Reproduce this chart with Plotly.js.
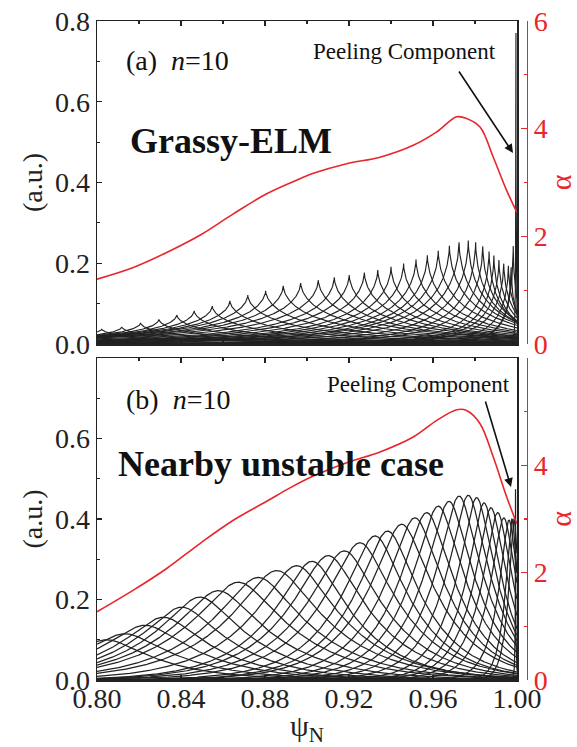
<!DOCTYPE html>
<html><head><meta charset="utf-8">
<script src="https://cdn.plot.ly/plotly-3.0.1.min.js"></script>
<style>html,body{margin:0;padding:0;background:#fff;}</style>
</head><body>
<div id="chart" style="width:577px;height:747px"></div>
<script>
// ---------------- data ----------------
const xTickVals = [0.80, 0.84, 0.88, 0.92, 0.96, 1.00];
const xTickText = ['0.80', '0.84', '0.88', '0.92', '0.96', '1.00'];
const yTickValsA = [0, 0.2, 0.4, 0.6, 0.8];
const yTickTextA = ['0.0', '0.2', '0.4', '0.6', '0.8'];
const yTickValsB = [0, 0.2, 0.4, 0.6];
const yTickTextB = ['0.0', '0.2', '0.4', '0.6'];
const alphaTickValsA = [0, 2, 4, 6];
const alphaTickValsB = [0, 2, 4];

// panel (a): alpha profile (right axis)
const alphaPsiA = [0.800, 0.8173, 0.8332, 0.8490, 0.8649, 0.8808, 0.8967, 0.9030, 0.9189, 0.9348, 0.9506, 0.9618, 0.9713, 0.9760, 0.9824, 0.9887, 0.9951, 0.9999];
const alphaA    = [1.205, 1.422, 1.70, 2.02, 2.417, 2.79, 3.07, 3.17, 3.35, 3.47, 3.69, 3.94, 4.22, 4.19, 4.03, 3.47, 2.85, 2.45];
// panel (b): alpha profile
const alphaPsiB = [0.800, 0.8173, 0.8332, 0.8490, 0.8649, 0.8808, 0.8919, 0.9030, 0.9189, 0.9348, 0.9506, 0.9618, 0.9713, 0.9760, 0.9824, 0.9887, 0.9951, 0.9999];
const alphaB    = [1.271, 1.674, 2.078, 2.543, 2.977, 3.33, 3.58, 3.80, 4.05, 4.25, 4.527, 4.837, 5.036, 5.023, 4.776, 4.154, 3.410, 2.915];

// panel (a): poloidal harmonics – peak location and peak amplitude
const harmPsiA = [0.8022, 0.8118, 0.8208, 0.8295, 0.8380, 0.8463, 0.8549, 0.8633, 0.8718, 0.8803, 0.8887, 0.8970, 0.9054, 0.9130, 0.9201, 0.9273, 0.9337, 0.9400, 0.9460, 0.9519, 0.9573, 0.9625, 0.9678, 0.9724, 0.9768, 0.9803, 0.9837, 0.9867, 0.9890, 0.9914, 0.9937, 0.9959, 0.9972, 0.9982];
const harmAmpA = [0.037, 0.042, 0.052, 0.061, 0.072, 0.082, 0.094, 0.107, 0.121, 0.132, 0.144, 0.151, 0.158, 0.165, 0.171, 0.177, 0.183, 0.191, 0.199, 0.209, 0.220, 0.231, 0.243, 0.252, 0.256, 0.252, 0.242, 0.229, 0.219, 0.208, 0.199, 0.194, 0.19, 0.243];
// panel (a): peeling component
const peelPsiA = [0.9995];
const peelAmpA = [0.77];

// panel (b): poloidal harmonics
const harmPsiB = [0.8046, 0.8133, 0.8229, 0.8316, 0.8403, 0.8490, 0.8578, 0.8673, 0.8768, 0.8856, 0.8951, 0.9024, 0.9101, 0.9178, 0.9252, 0.9324, 0.9384, 0.9451, 0.9514, 0.9570, 0.9625, 0.9676, 0.9724, 0.9768, 0.9808, 0.9843, 0.9876, 0.9908, 0.9937, 0.9962, 0.9976, 0.9986];
const harmAmpB = [0.100, 0.115, 0.136, 0.156, 0.181, 0.206, 0.222, 0.243, 0.255, 0.272, 0.284, 0.295, 0.309, 0.321, 0.341, 0.358, 0.370, 0.387, 0.403, 0.416, 0.432, 0.444, 0.457, 0.459, 0.453, 0.440, 0.428, 0.416, 0.403, 0.397, 0.40, 0.40];
// panel (b): peeling component
const peelPsiB = [0.9993];
const peelAmpB = [0.474];

// ---------------- helpers ----------------
const FONT = "'Liberation Serif', 'Times New Roman', serif";
const RED = '#e8262b';
const W = 577, H = 747;

function spacing(p, i) {
  const n = p.length;
  if (i === 0) return p[1] - p[0];
  if (i === n - 1) return p[n - 1] - p[n - 2];
  return (p[i + 1] - p[i - 1]) / 2;
}
function grid(c) {
  const xs = [];
  for (let k = 0; k <= 1000; k++) xs.push(0.8 + k * 0.0002);
  xs.push(c);
  [2e-6, 1e-5, 3e-5, 6e-5, 1e-4, 2e-4].forEach(f => { xs.push(c - f); xs.push(c + f); });
  return xs.filter(x => x >= 0.8 && x <= 1.0).sort((a, b) => a - b);
}
// cusp-like harmonic (panel a)
const cusp = (d, s) => Math.exp(-Math.pow(Math.abs(d) / (2.8 * s), 0.6));
// smooth broad harmonic (panel b)
const smooth = (d, s) => Math.exp(-(Math.sqrt(d * d + s * s) - s) / (3.0 * s));

function harmonics(psi, amp, shape, peelPsi, peelAmp) {
  const X = [], Y = [];
  for (let i = 0; i < psi.length; i++) {
    const s = spacing(psi, i);
    grid(psi[i]).forEach(x => { X.push(x); Y.push(amp[i] * shape(x - psi[i], s)); });
    X.push(null); Y.push(null);
  }
  for (let j = 0; j < peelPsi.length; j++) {
    grid(peelPsi[j]).forEach(x => { X.push(x); Y.push(peelAmp[j] * cusp(x - peelPsi[j], 0.00004)); });
    X.push(null); Y.push(null);
  }
  return { X, Y };
}

const hA = harmonics(harmPsiA, harmAmpA, cusp, peelPsiA, peelAmpA);
const hB = harmonics(harmPsiB, harmAmpB, smooth, peelPsiB, peelAmpB);

const traces = [
  { x: hA.X, y: hA.Y, xaxis: 'x2', yaxis: 'y3', mode: 'lines', line: { color: '#222', width: 1.15 }, connectgaps: false, hoverinfo: 'skip', showlegend: false },
  { x: alphaPsiA, y: alphaA, xaxis: 'x2', yaxis: 'y4', mode: 'lines', line: { color: RED, width: 1.6, shape: 'spline', smoothing: 1 }, showlegend: false },
  { x: hB.X, y: hB.Y, xaxis: 'x', yaxis: 'y', mode: 'lines', line: { color: '#222', width: 1.25 }, connectgaps: false, hoverinfo: 'skip', showlegend: false },
  { x: alphaPsiB, y: alphaB, xaxis: 'x', yaxis: 'y2', mode: 'lines', line: { color: RED, width: 1.6, shape: 'spline', smoothing: 1 }, showlegend: false }
];

// margins so that plot frame = x 97..517, y 21..680
const mL = 97, mR = 0, mT = 21, mB = 67;
const pw = W - mL - mR, ph = H - mT - mB;
const fx = px => (px - mL) / pw;
const fy = py => (H - mB - py) / ph;
const xDom = [0, fx(517)];
const domA = [fy(344), 1];
const domB = [0, fy(358)];
const redPos = fx(527);

const tickFont = { family: FONT, size: 28, color: '#222' };
const blackAxis = {
  showline: true, linecolor: '#222', linewidth: 1.5, ticks: 'inside', ticklen: 5, tickwidth: 1.2, tickcolor: '#222',
  showgrid: false, zeroline: false, tickfont: tickFont
};
function xAx(anchor, labels) {
  return Object.assign({}, blackAxis, {
    domain: xDom, anchor: anchor, range: [0.8, 1.0], mirror: 'ticks',
    tickvals: xTickVals, ticktext: xTickText, showticklabels: labels, ticklabelstandoff: -7,
    minor: { dtick: 0.02, ticks: 'inside', ticklen: 3, tickcolor: '#222', showgrid: false }
  });
}
function yAx(anchor, dom, vals, text) {
  return Object.assign({}, blackAxis, {
    domain: dom, anchor: anchor, range: [0, 0.8], mirror: true,
    tickvals: vals, ticktext: text,
    minor: { dtick: 0.1, ticks: 'inside', ticklen: 3, tickcolor: '#222', showgrid: false },
    title: { text: '(a.u.)', font: { family: FONT, size: 28, color: '#222' }, standoff: 4 }
  });
}
function redAx(over, vals) {
  return {
    overlaying: over, side: 'right', anchor: 'free', position: redPos, range: [0, 6],
    showline: true, linecolor: RED, linewidth: 1.2, ticks: 'inside', ticklen: 6, tickwidth: 1.2, tickcolor: RED,
    tickvals: vals, showgrid: false, zeroline: false,
    tickfont: { family: FONT, size: 28, color: RED },
    minor: { dtick: 1, ticks: 'inside', ticklen: 3, tickcolor: RED, showgrid: false },
    title: { text: 'α', font: { family: FONT, size: 30, color: RED }, standoff: 4 }
  };
}

const xb = xAx('y', true);
xb.title = { text: 'ψ<sub>N</sub>', font: { family: FONT, size: 30, color: '#222' }, standoff: 4 };

const P = (px, py) => ({ x: fx(px), y: fy(py) });
const ann = [];
function txt(text, px, py, size, bold, xanchor) {
  const p = P(px, py);
  ann.push({ xref: 'paper', yref: 'paper', x: p.x, y: p.y, xanchor: xanchor || 'left', yanchor: 'middle', showarrow: false,
    text: bold ? '<b>' + text + '</b>' : text, font: { family: FONT, size: size, color: '#111' } });
}
function arrow(hx, hy, tx, ty) {
  const p = P(hx, hy);
  ann.push({ xref: 'paper', yref: 'paper', x: p.x, y: p.y, ax: tx - hx, ay: ty - hy, axref: 'pixel', ayref: 'pixel',
    text: '', showarrow: true, arrowhead: 2, arrowsize: 1.1, arrowwidth: 1.6, arrowcolor: '#111' });
}
txt('(a)\u00a0\u00a0<i>n</i>=10', 124, 60, 28, false);
txt('(b)\u00a0\u00a0<i>n</i>=10', 124, 399, 28, false);
txt('Grassy-ELM', 128, 141, 36, true);
txt('Nearby unstable case', 116, 464, 36, true);
txt('Peeling Component', 404, 52, 23, false, 'center');
txt('Peeling Component', 418, 384, 23, false, 'center');
arrow(513, 153, 458, 70);
arrow(511, 487, 485, 400);

const layout = {
  width: W, height: H,
  margin: { l: mL, r: mR, t: mT, b: mB, pad: 0 },
  paper_bgcolor: '#fff', plot_bgcolor: 'rgba(0,0,0,0)',
  showlegend: false,
  font: { family: FONT, color: '#222' },
  xaxis: xb,
  xaxis2: xAx('y3', false),
  yaxis: yAx('x', domB, yTickValsB, yTickTextB),
  yaxis2: redAx('y', alphaTickValsB),
  yaxis3: yAx('x2', domA, yTickValsA, yTickTextA),
  yaxis4: redAx('y3', alphaTickValsA),
  annotations: ann
};

Plotly.newPlot('chart', traces, layout, { displayModeBar: false, staticPlot: true });
</script>
</body></html>
